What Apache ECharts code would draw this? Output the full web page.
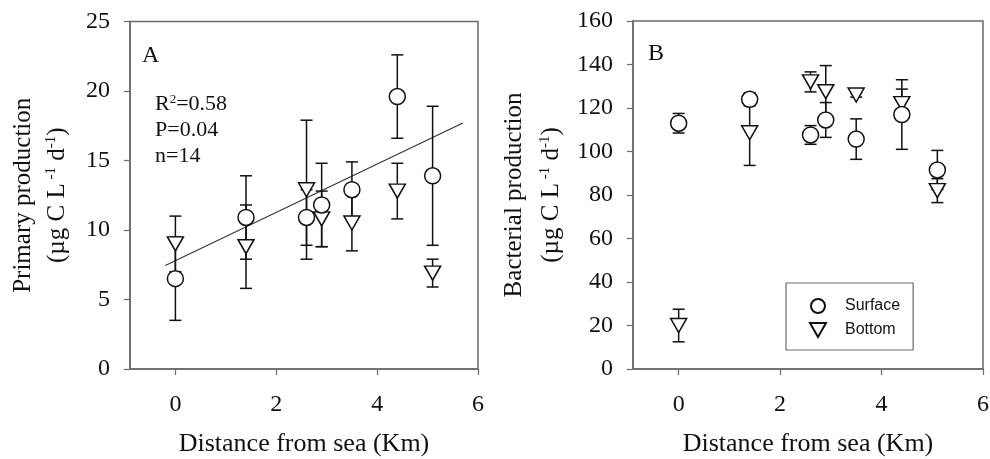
<!DOCTYPE html>
<html>
<head>
<meta charset="utf-8">
<script src="https://cdn.jsdelivr.net/npm/echarts@6/dist/echarts.min.js"></script>
<style>
html,body{margin:0;padding:0;background:#fff;}
#chart{width:990px;height:459px;}
</style>
</head>
<body>
<div id="chart"></div>
<script>
// ---- data ----
const dist = [0, 1.4, 2.6, 2.9, 3.5, 4.4, 5.1];
// Panel A: primary production
const ppSurface    = [6.5, 10.9, 10.9, 11.8, 12.9, 19.6, 13.9];
const ppSurfaceErr = [3.0, 3.0, 2.0, 3.0, 2.0, 3.0, 5.0];
const ppBottom     = [9.0, 8.8, 12.9, 10.8, 10.5, 12.8, 6.9];
const ppBottomErr  = [2.0, 3.0, 5.0, 2.0, 2.0, 2.0, 1.0];
const fitLine      = [[-0.2, 7.45], [5.7, 17.7]];
// Panel B: bacterial production
const bpSurface    = [113, 124, 107.6, 114.5, 105.7, 117, 91.5];
const bpSurfaceErr = [4.5, 3.0, 4.3, 8.0, 9.3, 16.0, 9.0];
const bpBottom     = [20, 108.6, 132, 127.5, 126, 122, 82];
const bpBottomErr  = [7.5, 15.0, 4.6, 12.0, 1.0, 6.7, 5.5];
// tick labels
const xTicks  = [0, 2, 4, 6];
const yTicksA = [0, 5, 10, 15, 20, 25];
const yTicksB = [0, 20, 40, 60, 80, 100, 120, 140, 160];

// ---- chart ----
const SERIF = "'Liberation Serif', 'Times New Roman', serif";
const SANS = "'Liberation Sans', Arial, sans-serif";
const AX = '#6a6a6a';
const triDown = 'path://M0,0 L16,0 L8,14 Z';

function pts(v) { return dist.map((d, i) => [d, v[i]]); }
function bars(v, e) { return dist.map((d, i) => [d, v[i] - e[i], v[i] + e[i]]); }

function errSeries(v, e, gi) {
  return {
    type: 'custom', xAxisIndex: gi, yAxisIndex: gi, z: 2, silent: true,
    encode: { x: 0, y: [1, 2] },
    data: bars(v, e),
    renderItem: function (params, api) {
      const x = api.value(0);
      const a = api.coord([x, api.value(1)]);
      const b = api.coord([x, api.value(2)]);
      const w = 6;
      const st = { stroke: '#111', lineWidth: 1.5 };
      return {
        type: 'group',
        children: [
          { type: 'line', shape: { x1: a[0], y1: a[1], x2: b[0], y2: b[1] }, style: st },
          { type: 'line', shape: { x1: a[0] - w, y1: a[1], x2: a[0] + w, y2: a[1] }, style: st },
          { type: 'line', shape: { x1: b[0] - w, y1: b[1], x2: b[0] + w, y2: b[1] }, style: st }
        ]
      };
    }
  };
}

function scatter(name, v, gi, sym) {
  return {
    type: 'scatter', name: name, xAxisIndex: gi, yAxisIndex: gi, z: 3,
    symbol: sym === 'c' ? 'circle' : triDown,
    symbolSize: sym === 'c' ? 16 : [16, 14],
    itemStyle: { color: '#fff', borderColor: '#111', borderWidth: 1.5, opacity: 1 },
    data: pts(v)
  };
}

function xAxis(gi) {
  return {
    type: 'value', gridIndex: gi, min: -0.9, max: 6,
    axisLine: { show: true, onZero: false, lineStyle: { color: AX, width: 1.5 } },
    axisTick: { show: true, length: 6, customValues: xTicks, lineStyle: { color: AX, width: 1.2 } },
    axisLabel: { customValues: xTicks, margin: 24, fontFamily: SERIF, fontSize: 24, color: '#111' },
    splitLine: { show: false },
    name: 'Distance from sea (Km)', nameLocation: 'middle', nameGap: 62,
    nameTextStyle: { fontFamily: SERIF, fontSize: 26, color: '#111' }
  };
}

function yAxis(gi, max, interval, ticks, line1, gap, lh) {
  return {
    type: 'value', gridIndex: gi, min: 0, max: max, interval: interval,
    axisLine: { show: true, onZero: false, lineStyle: { color: AX, width: 1.5 } },
    axisTick: { show: true, length: 6, customValues: ticks, lineStyle: { color: AX, width: 1.2 } },
    axisLabel: { customValues: ticks, margin: 20, fontFamily: SERIF, fontSize: 24, color: '#111' },
    splitLine: { show: false },
    name: line1 + '\n(µg C L{sup| -1} d{sup|-1})',
    nameLocation: 'middle', nameRotate: 90, nameGap: gap,
    nameTextStyle: {
      fontFamily: SERIF, fontSize: 25, color: '#111', lineHeight: lh,
      rich: { sup: { fontFamily: SERIF, fontSize: 15, color: '#111', padding: [0, 0, 12, 0], lineHeight: lh } }
    }
  };
}

const chart = echarts.init(document.getElementById('chart'), null, { renderer: 'canvas' });
chart.setOption({
  backgroundColor: '#fff',
  animation: false,
  grid: [
    { left: 130, top: 21.5, width: 348, height: 347.5, containLabel: false, outerBoundsMode: 'none', show: true, borderColor: AX, borderWidth: 1.5, backgroundColor: 'transparent' },
    { left: 633, top: 21, width: 350, height: 348, containLabel: false, outerBoundsMode: 'none', show: true, borderColor: AX, borderWidth: 1.5, backgroundColor: 'transparent' }
  ],
  xAxis: [xAxis(0), xAxis(1)],
  yAxis: [
    yAxis(0, 25, 5, yTicksA, 'Primary production', 56, 34),
    yAxis(1, 160, 20, yTicksB, 'Bacterial production', 63, 37)
  ],
  legend: {
    data: ['Surface', 'Bottom'],
    orient: 'vertical', left: 786, top: 283,
    itemWidth: 16, itemHeight: 14, itemGap: 8,
    padding: [15, 13, 12, 23],
    borderColor: AX, borderWidth: 1.2, backgroundColor: '#fff',
    selectedMode: false,
    textStyle: { fontFamily: SANS, fontSize: 16, color: '#111', padding: [0, 0, 0, 14] }
  },
  graphic: [
    { type: 'text', left: 142, top: 44, style: { text: 'A', font: '24px ' + SERIF, fill: '#111' } },
    { type: 'text', left: 648, top: 42, style: { text: 'B', font: '24px ' + SERIF, fill: '#111' } },
    {
      type: 'text', left: 155, top: 91,
      style: {
        text: 'R{sup|2}=0.58\nP=0.04\nn=14',
        fontFamily: SERIF, fontSize: 22, lineHeight: 26, fill: '#111',
        rich: { sup: { fontFamily: SERIF, fontSize: 13, padding: [0, 0, 9, 0], lineHeight: 26, fill: '#111' } }
      }
    }
  ],
  series: [
    {
      type: 'line', xAxisIndex: 0, yAxisIndex: 0, z: 1, silent: true,
      data: fitLine, symbol: 'none', lineStyle: { color: '#333', width: 1.1 }
    },
    errSeries(ppBottom, ppBottomErr, 0),
    errSeries(ppSurface, ppSurfaceErr, 0),
    scatter('Bottom', ppBottom, 0, 't'),
    scatter('Surface', ppSurface, 0, 'c'),
    errSeries(bpBottom, bpBottomErr, 1),
    errSeries(bpSurface, bpSurfaceErr, 1),
    scatter('Bottom', bpBottom, 1, 't'),
    scatter('Surface', bpSurface, 1, 'c')
  ]
});
</script>
</body>
</html>
